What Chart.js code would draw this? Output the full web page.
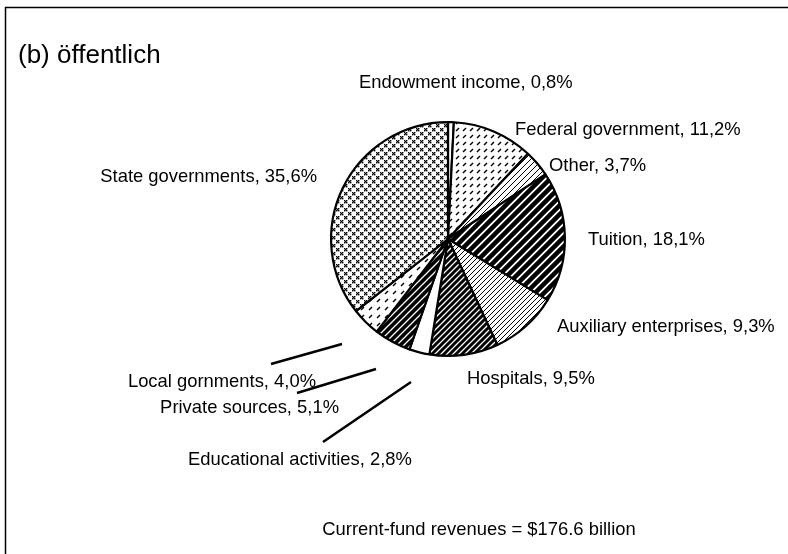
<!DOCTYPE html>
<html lang="de">
<head>
<meta charset="UTF-8">
<title>Current-fund revenues (b) öffentlich</title>
<script src="https://cdn.jsdelivr.net/npm/chart.js"></script>
<style>
    html, body { margin: 0; padding: 0; background: #fff; }
    #chart { display: block; }
</style>
</head>
<body>
<canvas id="chart" width="788" height="554"></canvas>
<script>
    // data, clockwise from 12 o'clock
    const categories = ['Endowment income', 'Federal government', 'Other', 'Tuition', 'Auxiliary enterprises',
        'Hospitals', 'Educational activities', 'Private sources', 'Local gornments', 'State governments'];
    const shares = [0.8, 11.2, 3.7, 18.1, 9.3, 9.5, 2.8, 5.1, 4.0, 35.6];
    const titleText = '(b) öffentlich';
    const footText = 'Current-fund revenues = $176.6 billion';

    // where each label sits: [x, y, align], same order as categories
    const labelSpots = [
        [359, 83, 'left'], [515, 130, 'left'], [549, 166, 'left'], [588, 240, 'left'], [557, 327, 'left'],
        [467, 379, 'left'], [188, 460, 'left'], [339, 408, 'right'], [316, 382, 'right'], [317, 177, 'right']
    ];
    // leader lines for the small slices at the bottom left
    const leaders = [[271, 364, 342, 344], [297, 393, 376, 369], [323, 442, 411, 382]];

    const FONT = '"Liberation Sans", Arial, sans-serif';

    function tile(size, bg, draw) {
        const c = document.createElement('canvas');
        c.width = c.height = size;
        const g = c.getContext('2d');
        g.fillStyle = bg;
        g.fillRect(0, 0, size, size);
        draw(g, size);
        return g.createPattern(c, 'repeat');
    }

    function slashes(size, width, fg, bg) {
        return tile(size, bg, (g, s) => {
            g.strokeStyle = fg;
            g.lineWidth = width;
            g.beginPath();
            g.moveTo(-s, 2 * s); g.lineTo(2 * s, -s);
            g.moveTo(-s, s); g.lineTo(s, -s);
            g.moveTo(0, 2 * s); g.lineTo(2 * s, 0);
            g.stroke();
        });
    }

    function dashes(size, fg) {
        return tile(size, '#fff', (g, s) => {
            g.strokeStyle = fg;
            g.lineWidth = 1.5;
            g.beginPath();
            g.moveTo(1, s - 2); g.lineTo(4, s - 5);
            g.stroke();
        });
    }

    const crosses = tile(8, '#fff', g => {
        g.fillStyle = '#000';
        [[0, 0], [2, 0], [1, 1], [0, 2], [2, 2], [4, 4], [6, 4], [5, 5], [4, 6], [6, 6]]
            .forEach(([x, y]) => g.fillRect(x, y, 1.4, 1.4));
    });

    const fills = [
        '#fff',                          // endowment
        dashes(7, '#000'),               // federal
        slashes(6, 1, '#000', '#fff'),   // other
        slashes(9, 4.5, '#000', '#fff'), // tuition
        slashes(5, 1, '#000', '#fff'),   // auxiliary
        slashes(6, 3, '#000', '#fff'),   // hospitals
        '#fff',                          // educational
        slashes(7, 1.3, '#fff', '#000'), // private
        dashes(8, '#000'),               // local
        crosses                          // state
    ];

    const fmt = v => v.toFixed(1).replace('.', ',') + '%';

    const decorations = {
        id: 'decorations',
        beforeDraw(chart) {
            const ctx = chart.ctx;
            ctx.save();
            ctx.strokeStyle = '#000';
            ctx.lineWidth = 1.5;
            ctx.beginPath();
            ctx.moveTo(5.5, 554); ctx.lineTo(5.5, 7.5); ctx.lineTo(788, 7.5);
            ctx.stroke();
            ctx.restore();
        },
        afterDraw(chart) {
            const ctx = chart.ctx;
            ctx.save();
            ctx.fillStyle = '#000';
            ctx.textBaseline = 'middle';
            ctx.font = '26px ' + FONT;
            ctx.textAlign = 'left';
            ctx.fillText(titleText, 18, 56);

            ctx.font = '18.4px ' + FONT;
            categories.forEach((name, i) => {
                const [x, y, align] = labelSpots[i];
                ctx.textAlign = align;
                ctx.fillText(name + ', ' + fmt(shares[i]), x, y);
            });
            ctx.textAlign = 'center';
            ctx.fillText(footText, 479, 530);

            ctx.strokeStyle = '#000';
            ctx.lineWidth = 2.5;
            leaders.forEach(([x1, y1, x2, y2]) => {
                ctx.beginPath();
                ctx.moveTo(x1, y1);
                ctx.lineTo(x2, y2);
                ctx.stroke();
            });
            ctx.restore();
        }
    };

    new Chart(document.getElementById('chart').getContext('2d'), {
        type: 'pie',
        data: {
            labels: categories,
            datasets: [{ data: shares, backgroundColor: fills, borderColor: '#000', borderWidth: 2.2 }]
        },
        options: {
            responsive: false,
            animation: false,
            events: [],
            layout: { padding: { left: 330, top: 121, right: 222, bottom: 197 } },
            plugins: { legend: { display: false }, tooltip: { enabled: false }, title: { display: false } }
        },
        plugins: [decorations]
    });
</script>
</body>
</html>
